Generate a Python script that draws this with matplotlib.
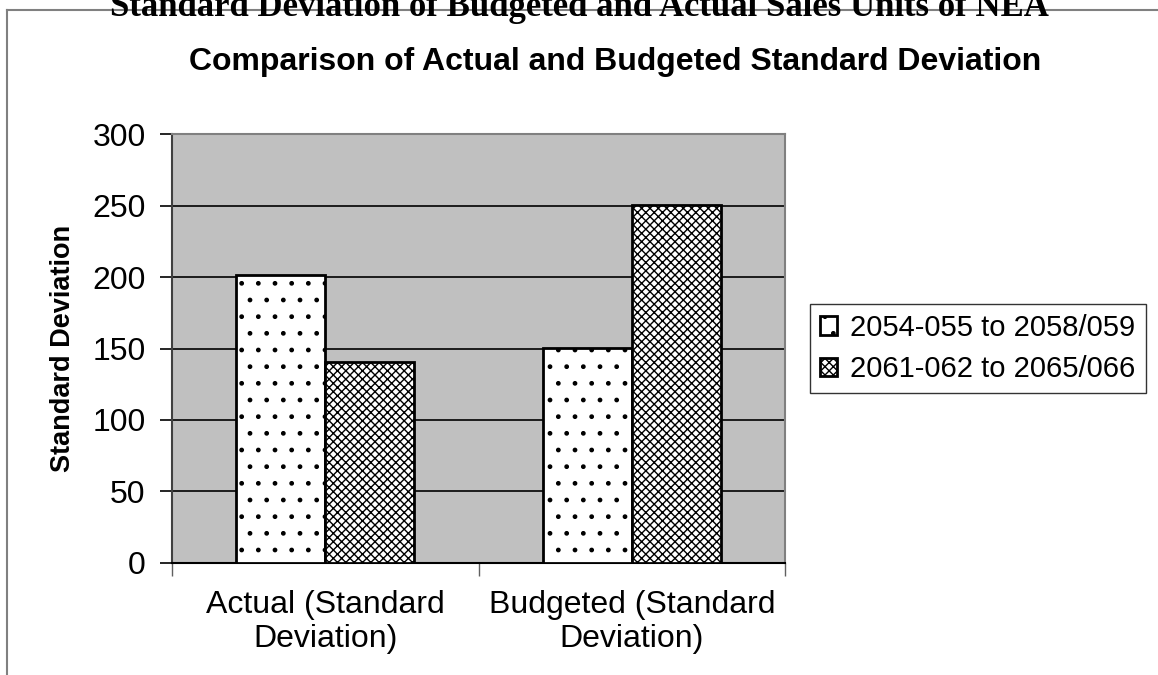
import matplotlib.pyplot as plt
import numpy as np

categories = ["Actual (Standard\nDeviation)", "Budgeted (Standard\nDeviation)"]
series_names = ["2054-055 to 2058/059", "2061-062 to 2065/066"]
first_period = [201.7, 150.4]
second_period = [140.4, 250.4]
y_ticks = [0, 50, 100, 150, 200, 250, 300]

plt.rcParams['font.family'] = ['Liberation Sans', 'DejaVu Sans']
plt.rcParams['hatch.linewidth'] = 1.0

fig = plt.figure(figsize=(11.58, 6.75), dpi=100)

# frame of the chart object (left and top edges only)
fig.add_artist(plt.Line2D([0.006, 0.006], [0.0, 0.985], transform=fig.transFigure,
                          color="#808080", lw=1.5))
fig.add_artist(plt.Line2D([0.006, 1.0], [0.985, 0.985], transform=fig.transFigure,
                          color="#808080", lw=1.5))

# report heading, clipped by the top of the page
fig.text(0.5, 1 - 16 / 675, "Standard Deviation of Budgeted and Actual Sales Units of NEA",
         ha="center", va="baseline", fontsize=25, fontweight="bold",
         family=["Liberation Serif", "DejaVu Serif"])

fig.text(0.531, 1 - 70 / 675, "Comparison of Actual and Budgeted Standard Deviation",
         ha="center", va="baseline", fontsize=23, fontweight="bold")

ax = fig.add_axes([0.1485, 0.1664, 0.5295, 0.6346])
ax.set_facecolor("#c0c0c0")

x = np.arange(len(categories))
w = 0.29
ax.bar(x - w / 2, first_period, w, color="white", edgecolor="black", linewidth=2,
       hatch=".", label=series_names[0], zorder=3)
ax.bar(x + w / 2, second_period, w, color="white", edgecolor="black", linewidth=2,
       hatch="xxxx", label=series_names[1], zorder=3)

ax.set_xlim(-0.5, 1.5)
ax.set_ylim(0, 300)
ax.set_yticks(y_ticks)
ax.yaxis.grid(True, color="black", linewidth=1.2, zorder=1)
ax.set_axisbelow(True)

ax.set_xticks(x)
ax.set_xticklabels(categories, fontsize=23, linespacing=1.15)
ax.set_xticks([-0.5, 0.5, 1.5], minor=True)
ax.tick_params(axis="x", which="major", length=0, pad=20)
ax.tick_params(axis="x", which="minor", length=9, width=1, color="#606060")
ax.tick_params(axis="y", labelsize=23, length=9, width=1.2, pad=10)

for side in ["top", "right"]:
    ax.spines[side].set_color("#808080")
    ax.spines[side].set_linewidth(1.5)
ax.spines["left"].set_color("#404040")
ax.spines["left"].set_linewidth(1.5)
ax.spines["bottom"].set_color("black")
ax.spines["bottom"].set_linewidth(1.5)

ax.set_ylabel("Standard Deviation", fontsize=19.5, fontweight="bold", labelpad=12)

leg = ax.legend(loc="center left", bbox_to_anchor=(1.04, 0.5), fontsize=21,
                frameon=True, fancybox=False, edgecolor="black",
                handlelength=0.6, handleheight=0.6, handletextpad=0.45,
                borderpad=0.35, labelspacing=0.45, borderaxespad=0)
leg.get_frame().set_linewidth(1)

fig.savefig("out.png", dpi=100)
